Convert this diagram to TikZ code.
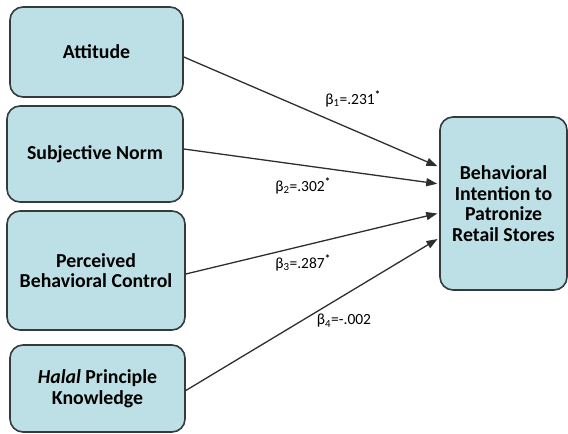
\documentclass[tikz,border=0pt]{standalone}
\usepackage{fontspec}
\setmainfont{Carlito}
\usetikzlibrary{arrows.meta}
\definecolor{boxfill}{HTML}{BDE0E6}
\definecolor{boxline}{HTML}{353B3C}
\definecolor{arrowline}{HTML}{2E2E2E}
\begin{document}
\begin{tikzpicture}[x=1pt,y=-1pt,
  construct/.style={draw=boxline,line width=1.6pt,fill=boxfill,rounded corners=13pt,
    align=center,inner sep=2pt,font=\fontsize{19.8}{20.5}\selectfont\bfseries},
  path/.style={draw=arrowline,line width=1.3pt,
    -{Triangle[length=11pt,width=8pt]},shorten >=2pt},
  coef/.style={font=\fontsize{15.5}{17}\selectfont,inner sep=1pt}]
  \useasboundingbox (0,0) rectangle (568,434);

  % predictor constructs
  \node[construct,minimum width=173pt,minimum height=90pt] (att) at (96.5,52) {Attitude};
  \node[construct,minimum width=176pt,minimum height=96pt] (sn) at (95,154) {Subjective Norm};
  \node[construct,minimum width=178pt,minimum height=119pt] (pbc) at (96,270.5) {Perceived\\Behavioral Control};
  \node[construct,minimum width=175pt,minimum height=87pt] (hal) at (97.5,388.5) {\textit{Halal} Principle\\Knowledge};

  % outcome construct
  \node[construct,minimum width=127pt,minimum height=173pt] (bi) at (503.5,203.5)
    {Behavioral\\Intention to\\Patronize\\Retail Stores};

  % structural paths
  \draw[path] ([yshift=-5pt]att.east) -- ([yshift=36.5pt]bi.west);
  \draw[path] ([yshift=5pt]sn.east) -- ([yshift=19.5pt]bi.west);
  \draw[path] ([yshift=-3.5pt]pbc.east) -- ([yshift=-9.5pt]bi.west);
  \draw[path] ([yshift=-2pt]hal.east) -- ([yshift=-34.5pt]bi.west);

  % path coefficients
  \node[coef] (b1) at (353,99) {β\textsubscript{1}=.231\textsuperscript{\textbf{*}}};
  \node[coef] (b2) at (303,186) {β\textsubscript{2}=.302\textsuperscript{\textbf{*}}};
  \node[coef] (b3) at (303,263) {β\textsubscript{3}=.287\textsuperscript{\textbf{*}}};
  \node[coef] (b4) at (344,321) {β\textsubscript{4}=-.002};
\end{tikzpicture}
\end{document}
